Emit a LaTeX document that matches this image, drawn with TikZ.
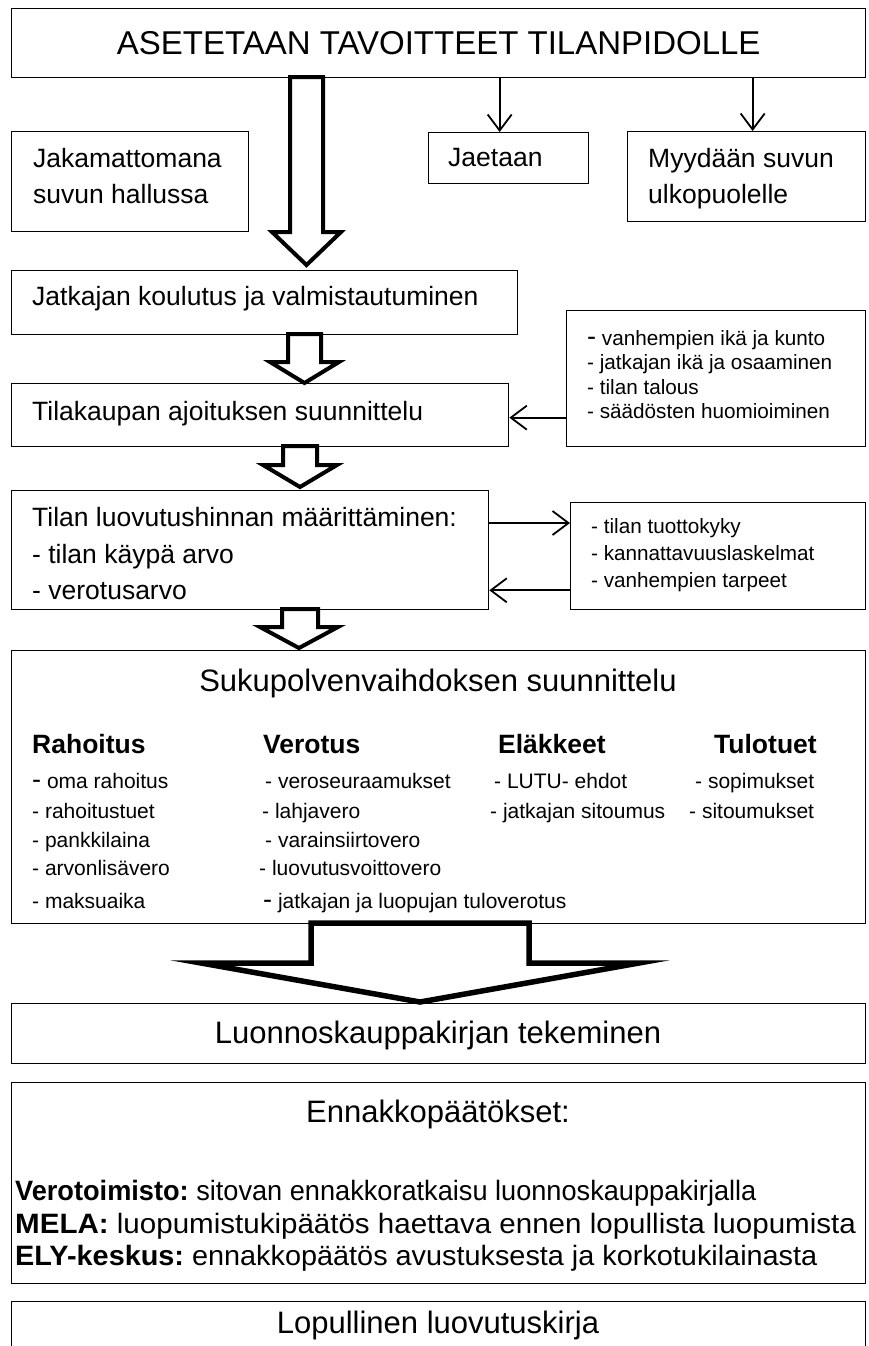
\documentclass[tikz,border=0pt]{standalone}
\usepackage{graphicx}
\usepackage{fontspec}
\setmainfont{Liberation Sans}
\usetikzlibrary{arrows.meta,calc}
\newcommand\bdash{{\fontsize{27}{27}\selectfont -}}
\frenchspacing
\begin{document}
\begin{tikzpicture}[x=1pt,y=-1pt,
  box/.style={draw=black, line width=1.3pt, rectangle, inner sep=0pt, anchor=north west},
  hol/.style={draw=black, line width=4pt, fill=white, line join=miter, miter limit=20},
  arr/.style={line width=1.8pt, -{Straight Barb[length=16pt,width=24pt,line width=1.8pt]}},
  tx/.style={anchor=base west, inner sep=0pt},
  tc/.style={anchor=base, inner sep=0pt},
  fbig/.style={font=\fontsize{31}{35}\selectfont},
  fmid/.style={font=\fontsize{26.5}{30}\selectfont},
  fsm/.style={font=\fontsize{21}{24}\selectfont},
  frb/.style={font=\fontsize{20.7}{24}\selectfont},
  fhd/.style={font=\fontsize{26.5}{29}\selectfont\bfseries},
  fen/.style={font=\fontsize{28}{32}\selectfont}]
\useasboundingbox (0,0) rectangle (868,1346);
% boxes
\node[box, minimum width=854pt, minimum height=69pt] (title) at (11,8) {};
\node[box, minimum width=237pt, minimum height=100pt] (jak) at (11,131) {};
\node[box, minimum width=160pt, minimum height=51pt] (ja) at (428,132) {};
\node[box, minimum width=238pt, minimum height=90pt] (my) at (627,131) {};
\node[box, minimum width=506pt, minimum height=64pt] (jk) at (11,270) {};
\node[box, minimum width=299pt, minimum height=136pt] (rb1) at (566,310) {};
\node[box, minimum width=497pt, minimum height=63pt] (tk) at (11,383) {};
\node[box, minimum width=477pt, minimum height=119pt] (tl) at (11,490) {};
\node[box, minimum width=295pt, minimum height=107pt] (rb2) at (570,502) {};
\node[box, minimum width=854pt, minimum height=273pt] (su) at (11,650) {};
\node[box, minimum width=854pt, minimum height=60pt] (lu) at (11,1003) {};
\node[box, minimum width=854pt, minimum height=201pt] (en) at (11,1082) {};
\node[box, minimum width=854pt, minimum height=90pt] (lo) at (11,1301) {};
% texts
\node[anchor=center, inner sep=0pt, font=\fontsize{33}{36}\selectfont] (t0) at (title.center) {ASETETAAN TAVOITTEET TILANPIDOLLE};
\node[tx,fmid] (t1) at (33,167) {Jakamattomana};
\node[tx,fmid] (t2) at (33,203) {suvun hallussa};
\node[tx,fmid] (t3) at (448,166) {Jaetaan};
\node[tx,fmid] (t4) at (648,167) {Myydään suvun};
\node[tx,fmid] (t5) at (648,203) {ulkopuolelle};
\node[tx,fmid] (t6) at (32,305) {Jatkajan koulutus ja valmistautuminen};
\node[tx,fmid] (t7) at (32,420) {Tilakaupan ajoituksen suunnittelu};
\node[tx,frb] (r1a) at (587,345) {\bdash\ vanhempien ikä ja kunto};
\node[tx,frb] (r1b) at (587,369) {- jatkajan ikä ja osaaminen};
\node[tx,frb] (r1c) at (587,394) {- tilan talous};
\node[tx,frb] (r1d) at (587,418) {- säädösten huomioiminen};
\node[tx,fmid] (t8) at (32,526) {Tilan luovutushinnan määrittäminen:};
\node[tx,fmid] (t9) at (32,563) {- tilan käypä arvo};
\node[tx,fmid] (t10) at (32,599) {- verotusarvo};
\node[tx,frb] (r2a) at (591,533) {- tilan tuottokyky};
\node[tx,frb] (r2b) at (591,560) {- kannattavuuslaskelmat};
\node[tx,frb] (r2c) at (591,587) {- vanhempien tarpeet};
\node[tc,fbig] (s0) at (438,691) {Sukupolvenvaihdoksen suunnittelu};
\node[tx,fhd] (h1) at (32,753) {Rahoitus};
\node[tx,fhd] (h2) at (263,753) {Verotus};
\node[tx,fhd] (h3) at (498,753) {Eläkkeet};
\node[tx,fhd] (h4) at (714,753) {Tulotuet};
\node[tx,fsm] (a1) at (32,788) {\bdash\ oma rahoitus};
\node[tx,fsm] (a2) at (32,818) {- rahoitustuet};
\node[tx,fsm] (a3) at (32,847) {- pankkilaina};
\node[tx,fsm] (a4) at (32,875) {- arvonlisävero};
\node[tx,fsm] (a5) at (32,908) {- maksuaika};
\node[tx,fsm] (b1) at (265,788) {- veroseuraamukset};
\node[tx,fsm] (b2) at (262,818) {- lahjavero};
\node[tx,fsm] (b3) at (265,847) {- varainsiirtovero};
\node[tx,fsm] (b4) at (259,875) {- luovutusvoittovero};
\node[tx,fsm] (b5) at (263,908) {\bdash\ jatkajan ja luopujan tuloverotus};
\node[tx,fsm] (c1) at (494,788) {- LUTU- ehdot};
\node[tx,fsm] (c2) at (490,818) {- jatkajan sitoumus};
\node[tx,fsm] (d1) at (695,788) {- sopimukset};
\node[tx,fsm] (d2) at (689,818) {- sitoumukset};
\node[tc,fbig] (l0) at (438,1043) {Luonnoskauppakirjan tekeminen};
\node[tc,fbig] (e0) at (438,1122) {Ennakkopäätökset:};
\node[tx,fen] (e1) at (15,1200) {\scalebox{0.97}[1]{\textbf{Verotoimisto:} sitovan ennakkoratkaisu luonnoskauppakirjalla}};
\node[tx,fen] (e2) at (15,1233) {\scalebox{1.055}[1]{\textbf{MELA:} luopumistukipäätös haettava ennen lopullista luopumista}};
\node[tx,fen] (e3) at (15,1265) {\scalebox{1.03}[1]{\textbf{ELY-keskus:} ennakkopäätös avustuksesta ja korkotukilainasta}};
\node[tc,fbig] (p0) at (438,1333) {Lopullinen luovutuskirja};
% hollow arrows
\draw[hol] (290,77) -- (290,232) -- (272,232) -- (306.5,265) -- (341,232) -- (323,232) -- (323,77) -- cycle;
\draw[hol] (288,334) -- (288,362) -- (270,362) -- (304.5,383) -- (339,362) -- (321,362) -- (321,334) -- cycle;
\draw[hol] (283,446) -- (283,465) -- (263,465) -- (300,487) -- (337,465) -- (317,465) -- (317,446) -- cycle;
\draw[hol] (282,609) -- (282,627) -- (260,627) -- (299,648) -- (338,627) -- (318,627) -- (318,609) -- cycle;
\draw[hol, line width=5.5pt] (311,923) -- (311,963) -- (201,963) -- (420,1002) -- (639,963) -- (529,963) -- (529,923) -- cycle;
% thin arrows
\coordinate (j1) at ([xshift=-9pt]ja.north);
\coordinate (m1) at ([xshift=6pt]my.north);
\draw[arr] (j1 |- title.south) -- (j1);
\draw[arr] (m1 |- title.south) -- (m1);
\coordinate (k1) at ([yshift=-2.5pt]tk.east);
\draw[arr] (k1 -| rb1.west) -- (k1);
\coordinate (q1) at ([yshift=-33pt]tl.north east);
\coordinate (q2) at ([yshift=20pt]tl.south east);
\draw[arr] (q1) -- (q1 -| rb2.west);
\draw[arr] (q2 -| rb2.west) -- (q2);
\end{tikzpicture}
\end{document}
